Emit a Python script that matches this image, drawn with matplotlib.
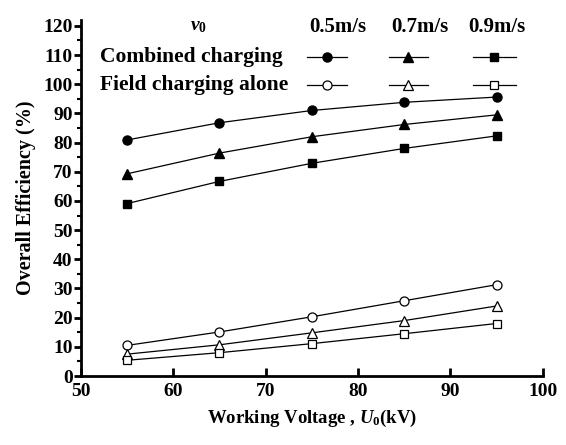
import numpy as np
import matplotlib.pyplot as plt
from matplotlib.ticker import MultipleLocator

plt.rcParams['font.family'] = 'Liberation Serif'
plt.rcParams['font.weight'] = 'bold'
plt.rcParams['axes.labelweight'] = 'bold'
plt.rcParams['mathtext.fontset'] = 'custom'
plt.rcParams['mathtext.rm'] = 'Liberation Serif:bold'
plt.rcParams['mathtext.it'] = 'Liberation Serif:bold:italic'
plt.rcParams['mathtext.bf'] = 'Liberation Serif:bold'

voltage = [55, 65, 75, 85, 95]
speeds = ['0.5m/s', '0.7m/s', '0.9m/s']
markers = ['o', '^', 's']
msizes = [6.5, 6.5, 5.8]

combined = [
    [80.9, 86.8, 91.0, 93.8, 95.6],
    [69.3, 76.4, 82.0, 86.2, 89.5],
    [59.1, 66.7, 72.9, 78.0, 82.3],
]
field_alone = [
    [10.5, 15.1, 20.3, 25.8, 31.3],
    [7.5, 10.7, 14.8, 19.0, 24.0],
    [5.4, 8.0, 11.1, 14.5, 18.0],
]

fig = plt.figure(figsize=(5.66, 4.45), dpi=100)
ax = fig.add_axes([0.143, 0.155, 0.816, 0.80])

for m, s, ys in zip(markers, msizes, combined):
    ax.plot(voltage, ys, color='black', lw=0.9, marker=m, ms=s,
            mfc='black', mec='black')
for m, s, ys in zip(markers, msizes, field_alone):
    ax.plot(voltage, ys, color='black', lw=0.9, marker=m, ms=s,
            mfc='white', mec='black', mew=0.9)

# legend table drawn by hand
ax.text(62.7, 119.7, r'$\mathit{v}_{\mathrm{0}}$', ha='center', va='center', fontsize=14)
head_x = [77.8, 86.7, 95.0]
for x, s in zip(head_x, speeds):
    ax.text(x, 119.7, s, ha='center', va='center', fontsize=15)
ax.text(52.1, 109.2, 'Combined charging', ha='left', va='center', fontsize=15.5)
ax.text(52.1, 99.7, 'Field charging alone', ha='left', va='center', fontsize=15.5)
spans = [(74.5, 78.8), (83.3, 87.6), (92.4, 97.1)]
for (x0, x1), m, s in zip(spans, markers, msizes):
    xm = (x0 + x1) / 2
    ax.plot([x0, x1], [109.2, 109.2], color='black', lw=0.9)
    ax.plot([xm], [109.2], marker=m, ms=s, color='black')
    ax.plot([x0, x1], [99.7, 99.7], color='black', lw=0.9)
    ax.plot([xm], [99.7], marker=m, ms=s, mfc='white', mec='black', mew=0.9)

ax.set_xlim(50, 100)
ax.set_ylim(0, 122)
ax.xaxis.set_major_locator(MultipleLocator(10))
ax.yaxis.set_minor_locator(MultipleLocator(5))
ax.set_yticks(np.arange(0, 121, 10))

for side in ['top', 'right']:
    ax.spines[side].set_visible(False)
for side in ['left', 'bottom']:
    ax.spines[side].set_linewidth(2)

ax.tick_params(axis='x', direction='in', length=6, width=2, labelsize=14, pad=5)
ax.tick_params(axis='y', which='major', direction='out', length=5, width=2, labelsize=14, pad=1)
ax.tick_params(axis='y', which='minor', direction='out', length=3, width=1.5)
for lab in ax.get_xticklabels() + ax.get_yticklabels():
    lab.set_fontweight('bold')

ax.set_xlabel(r'Working Voltage , $\mathit{U}_{\mathrm{0}}$(kV)', fontsize=13.5, labelpad=6)
ax.set_ylabel('Overall Efficiency (%)', fontsize=14.5, labelpad=5)

fig.savefig('out.png', dpi=100)
